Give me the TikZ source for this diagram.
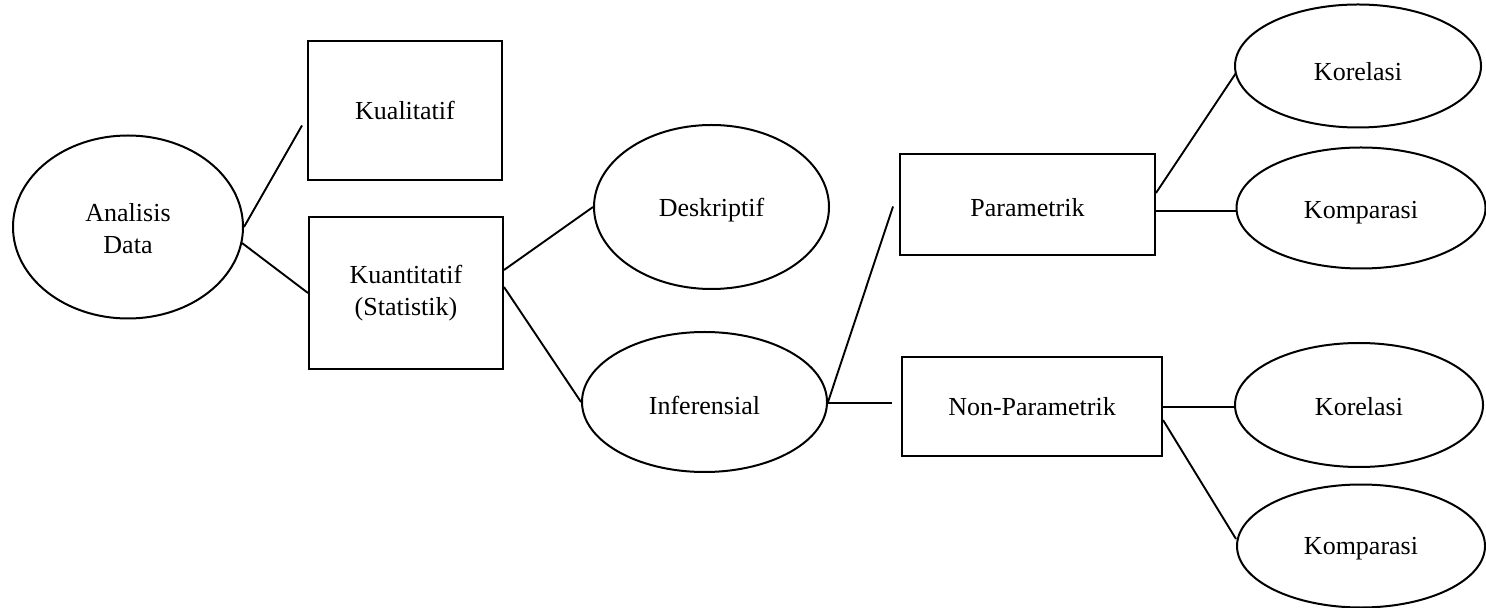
\documentclass[tikz,border=0pt]{standalone}
\usepackage{fontspec}
\setmainfont{Liberation Serif}
\usetikzlibrary{shapes.geometric,calc}

% lower a label inside its node without changing the node's size
\newcommand{\dropby}[2]{\raisebox{-#1}[\height][\depth]{#2}}

\begin{document}
\begin{tikzpicture}[x=0.5pt,y=-0.5pt,
    every node/.style={font=\fontsize{13pt}{16pt}\selectfont, align=center, inner sep=0pt, line width=1pt, draw},
    oval/.style={ellipse},
    box/.style={rectangle},
    link/.style={line width=0.95pt}]
  \useasboundingbox (0,0) rectangle (1486,608);

  % nodes
  \node[oval, minimum width=115pt, minimum height=91.5pt] (ad) at (128,227)
    {\dropby{2pt}{\begin{tabular}{@{}c@{}}Analisis\\Data\end{tabular}}};
  \node[box, minimum width=97pt, minimum height=69.5pt] (kual) at (405,110.5) {Kualitatif};
  \node[box, minimum width=97pt, minimum height=76pt] (kuan) at (406,293) {Kuantitatif\\(Statistik)};
  \node[oval, minimum width=117.5pt, minimum height=82pt] (desk) at (711.5,207) {\dropby{1.5pt}{Deskriptif}};
  \node[oval, minimum width=122.5pt, minimum height=70pt] (inf) at (704.5,402) {\dropby{1.5pt}{Inferensial}};
  \node[box, minimum width=127.5pt, minimum height=50.5pt] (par) at (1027.5,204.5) {\dropby{1.5pt}{Parametrik}};
  \node[box, minimum width=130pt, minimum height=49.5pt] (nonp) at (1032,406.5) {Non-Parametrik};
  \node[oval, minimum width=123pt, minimum height=61.5pt] (kora) at (1358,66) {\dropby{3pt}{Korelasi}};
  \node[oval, minimum width=124.5pt, minimum height=60.5pt] (koma) at (1361,208) {\dropby{2.5pt}{Komparasi}};
  \node[oval, minimum width=124pt, minimum height=62pt] (korb) at (1359,405) {\dropby{1pt}{Korelasi}};
  \node[oval, minimum width=124pt, minimum height=61.5pt] (komb) at (1361,546) {\dropby{1.5pt}{Komparasi}};

  % helper points for the horizontal links
  \coordinate (parmid) at ($(par.east)+(0,-3.25pt)$);
  \coordinate (infmid) at ($(inf.east)+(0,-0.5pt)$);
  \coordinate (npmid) at ($(nonp.east)+(0,-0.25pt)$);

  % connectors
  \draw[link] (ad.east) -- ($(kual.west)+(-2.5pt,-7.5pt)$);
  \draw[link] ($(ad.east)+(-1pt,-8pt)$) -- (kuan.west);
  \draw[link] ($(kuan.east)+(0,11.5pt)$) -- (desk.west);
  \draw[link] ($(kuan.east)+(0,3pt)$) -- (inf.west);
  \draw[link] (inf.east) -- ($(par.west)+(-3pt,-1pt)$);
  \draw[link] (infmid) -- ($(infmid -| nonp.west)+(-4.5pt,0)$);
  \draw[link] ($(par.east)+(0,5.75pt)$) -- ($(kora.west)+(1pt,-3.5pt)$);
  \draw[link] (parmid) -- (parmid -| koma.west);
  \draw[link] (npmid) -- (npmid -| korb.west);
  \draw[link] ($(nonp.east)+(0,-6.75pt)$) -- ($(komb.west)+(0,3.5pt)$);
\end{tikzpicture}
\end{document}
